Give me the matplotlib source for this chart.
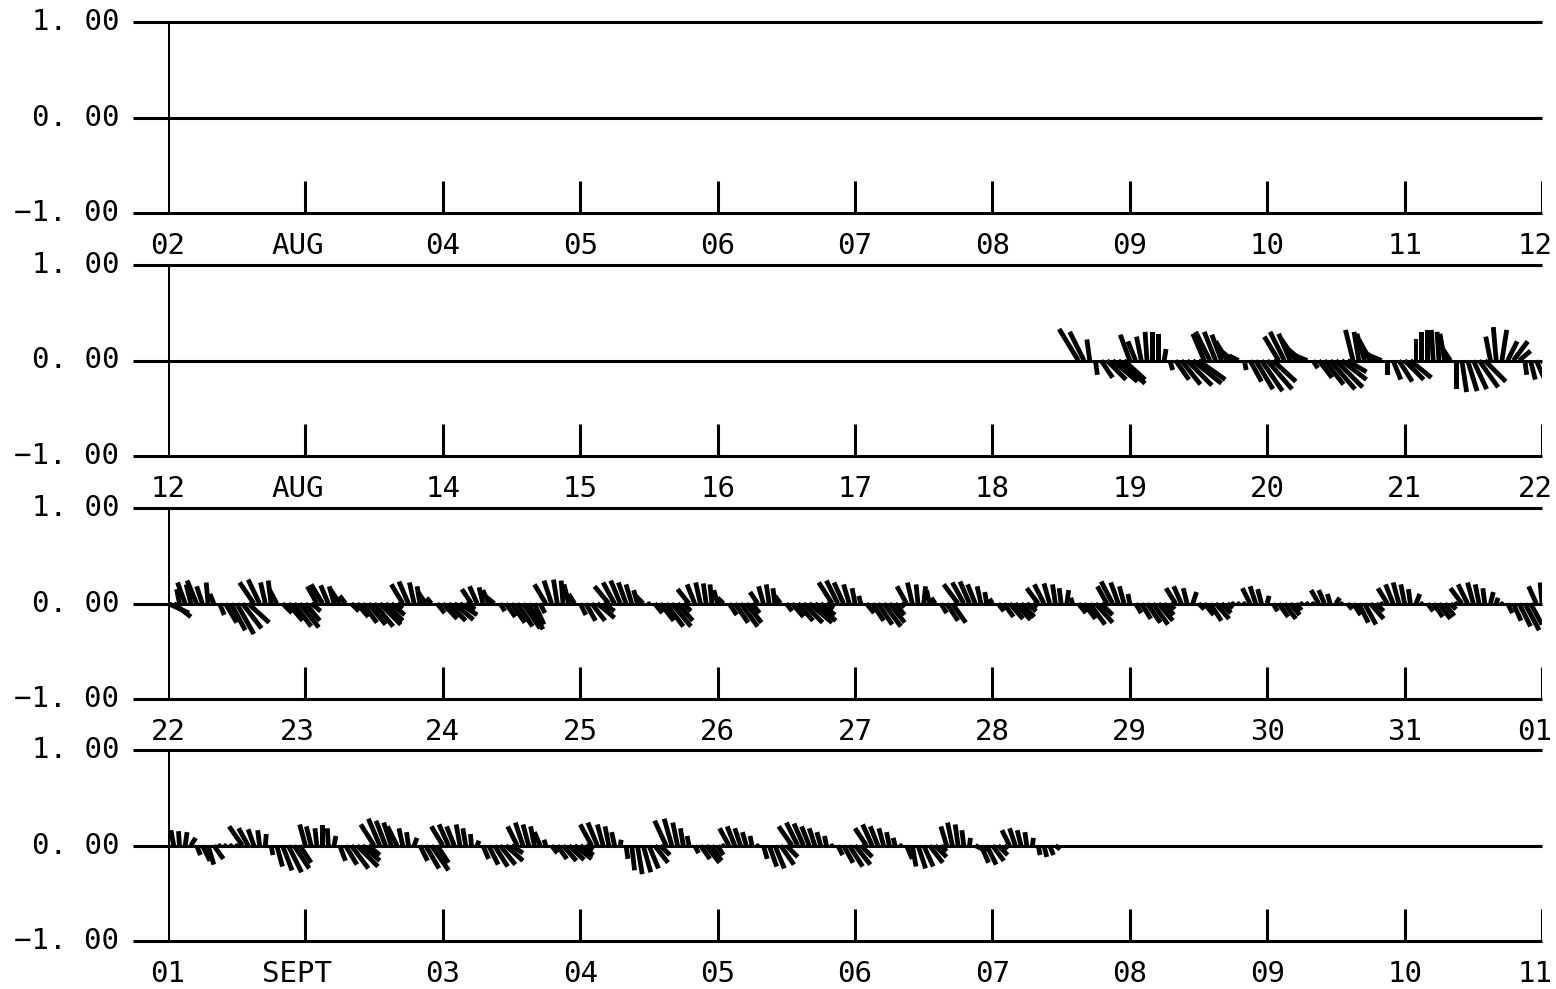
import numpy as np
import matplotlib
matplotlib.use('Agg')
import matplotlib.pyplot as plt

plt.rcParams['font.family'] = 'DejaVu Sans Mono'

# day labels under each strip (10 days per strip)
days_1 = ['02', 'AUG', '04', '05', '06', '07', '08', '09', '10', '11', '12']
days_2 = ['12', 'AUG', '14', '15', '16', '17', '18', '19', '20', '21', '22']
days_3 = ['22', '23', '24', '25', '26', '27', '28', '29', '30', '31', '01']
days_4 = ['01', 'SEPT', '03', '04', '05', '06', '07', '08', '09', '10', '11']
ylabels = ['1. 00', '0. 00', '\u22121. 00']
yvals = [1.0, 0.0, -1.0]

# hourly current components (hundredths of axis unit), first hour of record in each strip
start_1 = 0
u_1 = []
v_1 = []

start_2 = 159
u_2 = [-20, -15, -3, 2, 12, 20, 26, 28, 22, -10, -8, -5, -2, 0, 0, 2,
       3, 14, 20, 26, 30, 28, -12, -15, -12, -10, -12, -15, -10,
       2, 12, 18, 22, 26, 24, -15, -15, -12, -15, -18, -15,
       5, 14, 20, 26, 28, 26, 20, -8, -5, -8, -12, -20, -15,
       0, 8, 14, 20, 22, 0, 0, 0, -2, -2, -5, -10,
       0, 5, 10, 14, 20, 22, -5, -3, 5, 10, 15, 12,
       2, 5, 8, 10]
v_2 = [33, 30, 22, -15, -18, -20, -22, -24, -20, 27, 20, 25, 30, 30, 28, 12,
       -10, -20, -25, -26, -24, -20, 28, 30, 30, 27, 20, 12, 5,
       -10, -22, -30, -32, -30, -22, 25, 30, 28, 22, 15, 6,
       -8, -18, -25, -30, -28, -20, -12, 32, 30, 28, 22, 15, 6,
       -15, -20, -22, -20, -18, 22, 30, 32, 32, 30, 28, 15,
       -30, -33, -32, -30, -28, -22, 25, 35, 32, 20, 20, 10,
       -15, -20, -18, -15]

start_3 = 0
u_3 = [22, 18, -3, -8, -5, -10, -6, -2, -4, 5, 12, 15, 18, 20, 22,
       -15, -12, -5, -3, -8, 10, 15, 18, 20, 15, 10,
       -10, -12, -8, -5, -10, -6, 8, 12, 15, 18, 20, 22, 18, 14, 6,
       -12, -10, -5, -3, -8, -5, 8, 15, 18, 20, 18, 10,
       -10, -8, -4, -6, -10, 5, 10, 14, 16, 18, 15, 10, 5,
       -12, -8, -4, -2, -5, -6, 6, 10, 14, 18, 12,
       -15, -12, -10, -8, -6, -4, -8, -2, 8, 14, 18, 20, 16, 8,
       -12, -8, -5, -3, -2, -4, -6, 8, 14, 18, 16, 8,
       -8, -5, -3, -2, -6, 6, 12, 16, 20, 24, 22, 15, 8,
       -14, -12, -10, -6, -3, -2, 8, 12, 15, 18, 16, 10, 4,
       -10, -5, -2, 2, -3, -4, 6, 12, 14,
       -15, -12, -10, -8, -4, -2, -3, 6, 10, 14, 16, 14, 10, 5,
       -12, -10, -6, -3, -2, 2, -2, 8, 12, 16, 18, 12,
       -10, -12, -8, -5, -2, 6, 10, 14, 16, 15, 10, 5,
       -10, -8, -4, 4, 6, 10, 12, 14, 10, 6, 3, 2, -2,
       -8, -6, -4, 2, 5, 10, 12, 10, 6, 4, 3, 2,
       -8, -6, -3, 4, 2, 5, 8, 10, 12, 14, 8, 3,
       -10, -8, -6, -4, -2, 4, 2, 6, 10, 12, 10, 6, 2,
       -12, -10, -6, -4, -2, 3, 2, 0, 5, 8, 12, 15, 12, -8, -2]
v_3 = [-10, -14, 15, 22, 20, 24, 18, 22, 10, -12, -20, -28, -32, -26, -20,
       22, 25, 22, 24, 15, -10, -18, -24, -25, -18, -8,
       18, 20, 19, 18, 15, 8, -8, -14, -20, -22, -24, -22, -18, -12, -5,
       20, 23, 22, 18, 12, 6, -10, -16, -18, -17, -12, -6,
       15, 18, 17, 14, 8, -8, -14, -20, -24, -26, -27, -22, -10,
       20, 24, 25, 24, 20, 10, -12, -18, -18, -15, -8,
       18, 22, 24, 22, 20, 14, 8, 4, -10, -18, -24, -24, -18, -8,
       15, 20, 22, 21, 20, 14, 6, -12, -20, -24, -20, -10,
       12, 18, 20, 16, 8, -8, -14, -18, -20, -20, -18, -12, -5,
       22, 24, 22, 20, 16, 8, -10, -18, -22, -24, -20, -12, -4,
       18, 22, 20, 18, 14, 6, -10, -18, -20,
       20, 22, 23, 20, 18, 12, 5, -8, -14, -16, -17, -14, -8, -4,
       16, 20, 21, 20, 16, 14, 6, -10, -16, -22, -20, -12,
       18, 23, 22, 18, 10, -10, -16, -20, -22, -18, -12, -6,
       16, 18, 16, 12, -6, -12, -18, -16, -10, -5, 2, -2, 4,
       16, 18, 15, 8, -8, -14, -16, -12, -7, -3, 2, -2,
       14, 14, 10, 6, 2, -6, -12, -20, -22, -16, -8, -2,
       16, 20, 22, 20, 15, 10, 4, -8, -14, -16, -13, -6, -2,
       16, 20, 22, 20, 16, 12, 6, 2, -10, -18, -24, -28, -22, 18, 22]

start_4 = 0
u_4 = [-2, -3, -1, 2, 5, 4, 8, 6, 10, 1, 1, -1, -2,
       -14, -10, -6, -2, 1, 2, 6, 10, 14, 16, 12,
       -6, -5, -2, 0, -1, 2, 6, 12, 18, 22, 18, 12,
       -14, -12, -10, -8, -10, -4, -2, 3, 8, 14, 18, 12,
       -12, -10, -8, -4, -3, -1, 2, 6, 10, 14, 16, 18, 12,
       -10, -8, -6, -4, -6, -2, 6, 10, 14, 16, 18, 14, 8,
       -12, -10, -6, -4, -3, 1, 2, 3, 5, 8, 10, 14, 10,
       -12, -8, -5, -3, -2, 4, 10, 14, 10, 6, 2,
       -10, -8, -6, -4, -2, 0, 4, 8, 10, 14, 12,
       -14, -12, -10, -8, -6, -4, -2, 0, 5, 10, 14, 16, 12,
       -12, -10, -8, -5, -3, -2, 2, 6, 4, 8, 10, 14, 12, 6,
       -6, -5, -3, -2, 1, 12, 8, 10, 12, 10, 4,
       -8, -6, -4, -2, 1, 2, 3, 4, 5]
v_4 = [10, 16, 15, 14, 8, -10, -16, -20, -14, -1, 1, 1, 2,
       20, 18, 17, 16, 12, -10, -22, -26, -28, -24, -18,
       22, 20, 18, 21, 18, 10, -16, -20, -24, -22, -16, -10,
       22, 28, 26, 24, 20, 18, 14, 8, -16, -24, -26, -18,
       20, 22, 20, 22, 18, 12, 5, -14, -20, -22, -20, -16, -8,
       20, 24, 22, 20, 14, 6, -8, -14, -16, -15, -14, -10, -4,
       22, 24, 22, 20, 14, 6, -14, -26, -30, -28, -24, -18, -10,
       26, 28, 24, 18, 10, -8, -14, -18, -16, -10, -3,
       18, 20, 18, 14, 10, 5, -14, -22, -24, -20, -12,
       20, 24, 23, 20, 18, 14, 10, 5, -10, -18, -22, -20, -12,
       18, 22, 20, 18, 14, 8, 3, -14, -22, -24, -22, -18, -12, -6,
       20, 24, 22, 16, 8, -6, -18, -20, -16, -10, -4,
       16, 18, 16, 14, 8, -10, -12, -10, -4]

strips = [(days_1, start_1, u_1, v_1),
          (days_2, start_2, u_2, v_2),
          (days_3, start_3, u_3, v_3),
          (days_4, start_4, u_4, v_4)]

W, H = 1556, 989
left, right = 168, 1542
rows = [(22, 213), (265, 456), (508, 699), (750, 941)]

fig = plt.figure(figsize=(W / 100, H / 100), dpi=100)

for (days, start, u, v), (ytop, ybot) in zip(strips, rows):
    ax = fig.add_axes([left / W, 1 - ybot / H, (right - left) / W, (ybot - ytop) / H])
    ax.set_xlim(0, 10)
    ax.set_ylim(-1, 1)
    ax.axis('off')

    # frame: three horizontal lines, left axis, day ticks
    ax.hlines(yvals, -0.255, 10, color='black', lw=2.2, clip_on=False)
    ax.vlines(0, -1, 1, color='black', lw=2.2)
    ax.vlines(np.arange(1, 11), -1, -0.66, color='black', lw=2.2)

    for y, lab in zip(yvals, ylabels):
        ax.annotate(lab, (0, y), xytext=(-49, 0), textcoords='offset pixels',
                    ha='right', va='center', fontsize=21)
    for d, lab in enumerate(days):
        dx = 0
        if d == 1:
            dx = -8
        elif d == 10:
            dx = -7
        ax.annotate(lab, (d, -1), xytext=(dx, -33), textcoords='offset pixels',
                    ha='center', va='center', fontsize=21)

    if len(u):
        t = (start + np.arange(len(u))) / 24.0
        uu = np.array(u) / 100.0
        vv = np.array(v) / 100.0
        ax.quiver(t, np.zeros_like(t), uu, vv, angles='uv', scale_units='y', scale=1,
                  units='dots', width=4.8, headwidth=0, headlength=0, headaxislength=0,
                  pivot='tail', color='black', zorder=3)

fig.savefig('out.png', dpi=100)
